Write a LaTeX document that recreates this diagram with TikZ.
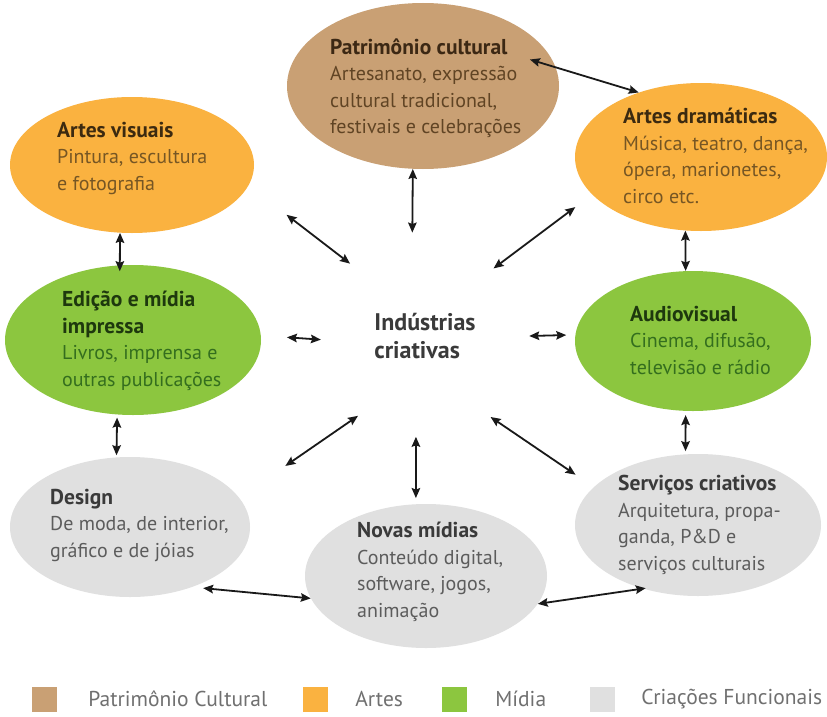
\documentclass[tikz,border=0pt]{standalone}
\usepackage{fontspec}
\setmainfont{PT Sans}
\usetikzlibrary{shapes.geometric,arrows.meta,positioning}

\definecolor{patr}{RGB}{201,160,116}
\definecolor{arte}{RGB}{250,178,64}
\definecolor{midia}{RGB}{140,198,63}
\definecolor{func}{RGB}{224,224,224}
\definecolor{patrhd}{RGB}{60,40,20}
\definecolor{patrtx}{RGB}{96,68,36}
\definecolor{artehd}{RGB}{60,42,16}
\definecolor{artetx}{RGB}{118,86,36}
\definecolor{midiahd}{RGB}{30,56,14}
\definecolor{midiatx}{RGB}{52,110,30}
\definecolor{funchd}{RGB}{58,58,58}
\definecolor{functx}{RGB}{92,92,92}
\definecolor{legtxt}{RGB}{112,112,112}

\newcommand{\hd}[2]{{\fontsize{21.5}{26.5}\selectfont\bfseries\color{#1}#2}}

\tikzset{
  bubble/.style={ellipse, inner sep=0pt},
  txt/.style={anchor=west, align=left, inner sep=0pt, font=\fontsize{20}{26.5}\selectfont},
  link/.style={{Stealth[length=10pt,width=8.5pt,inset=1.5pt]}-{Stealth[length=10pt,width=8.5pt,inset=1.5pt]}, line width=1.8pt, draw=black!90},
  key/.style={minimum size=25pt, inner sep=0pt},
  keytxt/.style={inner sep=0pt, text=legtxt, font=\fontsize{21.5}{24}\selectfont},
}

\begin{document}
\begin{tikzpicture}[x=1pt, y=-1pt]
    \useasboundingbox[fill=white] (0,0) rectangle (827,717);
    % ellipses
    \node[bubble, fill=patr, minimum width=272pt, minimum height=166pt] (pat) at (423,86) {};
    \node[bubble, fill=arte, minimum width=244pt, minimum height=136pt] (visuais) at (132,165) {};
    \node[bubble, fill=arte, minimum width=252pt, minimum height=148pt] (drama) at (701,157) {};
    \node[bubble, fill=midia, minimum width=256pt, minimum height=150pt] (edicao) at (133,340) {};
    \node[bubble, fill=midia, minimum width=236pt, minimum height=140pt] (audio) at (693,341) {};
    \node[bubble, fill=func, minimum width=240pt, minimum height=140pt] (design) at (130,527) {};
    \node[bubble, fill=func, minimum width=242pt, minimum height=144pt] (novas) at (426,576) {};
    \node[bubble, fill=func, minimum width=246pt, minimum height=142pt] (servicos) at (698,525) {};
    % texts
    \node[txt, text=patrtx] (pat-t) at (330,88) {\hd{patrhd}{Patrimônio cultural}\\Artesanato, expressão\\cultural tradicional,\\festivais e celebrações};
    \node[txt, text=artetx] (visuais-t) at (57,158) {\hd{artehd}{Artes visuais}\\Pintura, escultura\\e fotografia};
    \node[txt, text=artetx] (drama-t) at (623,156) {\hd{artehd}{Artes dramáticas}\\Música, teatro, dança,\\ópera, marionetes,\\circo etc.};
    \node[txt, text=midiatx] (edicao-t) at (62,341) {\hd{midiahd}{Edição e mídia}\\\hd{midiahd}{impressa}\\Livros, imprensa e\\outras publicações};
    \node[txt, text=midiatx] (audio-t) at (630,340) {\hd{midiahd}{Audiovisual}\\Cinema, difusão,\\televisão e rádio};
    \node[txt, text=functx] (design-t) at (50,525) {\hd{funchd}{Design}\\De moda, de interior,\\gráfico e de jóias};
    \node[txt, text=functx] (novas-t) at (357,572) {\hd{funchd}{Novas mídias}\\Conteúdo digital,\\software, jogos,\\animação};
    \node[txt, text=functx] (servicos-t) at (618,525) {\hd{funchd}{Serviços criativos}\\Arquitetura, propa-\\ganda, P\&D e\\serviços culturais};
    % centre
    \node[circle, minimum size=208pt, inner sep=0pt, align=left, text=funchd,
          font=\fontsize{24}{28}\selectfont\bfseries] (hub) at (425,336) {Indústrias\\criativas};
    % arrows round the centre
    \draw[link] (pat.263) -- (hub.97);
    \draw[link, shorten >=48pt] (hub.136) -- (visuais.-10);
    \draw[link, shorten <=-8pt, shorten >=21pt] (hub.44) -- (drama.199);
    \draw[link, shorten >=26pt] (hub.182) -- (edicao.2);
    \draw[link, shorten >=9pt] (hub.0) -- (audio.177);
    \draw[link, shorten >=56pt] (hub.230) -- (design.15);
    \draw[link, shorten <=-3pt, shorten >=6pt] (hub.265) -- (novas.98);
    \draw[link, shorten >=22pt] (hub.309) -- (servicos.160);
    % arrows between neighbours
    \draw[link, shorten <=-27pt] (pat.8) -- (drama.134);
    \draw[link, shorten >=-6pt] (visuais.260) -- (edicao.100);
    \draw[link] (drama.258) -- (audio.96);
    \draw[link, shorten <=3pt, shorten >=2pt] (edicao.258) -- (design.101);
    \draw[link, shorten <=4pt, shorten >=3pt] (audio.264) -- (servicos.100);
    \draw[link, shorten <=11pt] (design.-44) -- (novas.191);
    \draw[link, shorten >=-3pt] (novas.-14) -- (servicos.229);
    % legend
    \node[key, fill=patr] (k1) at (44.5,699) {};
    \node[key, fill=arte] (k2) at (315.5,699) {};
    \node[key, fill=midia] (k3) at (454.5,699) {};
    \node[key, fill=func] (k4) at (602.5,699) {};
    \node[keytxt, right=31pt of k1] (k1-t) {Patrimônio Cultural};
    \node[keytxt, right=27pt of k2] (k2-t) {Artes};
    \node[keytxt, right=28pt of k3] (k3-t) {Mídia};
    \node[keytxt, right=26pt of k4] (k4-t) {Criações Funcionais};
\end{tikzpicture}
\end{document}
